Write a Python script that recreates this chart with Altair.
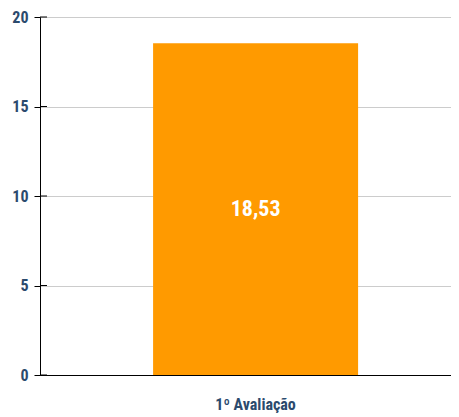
import altair as alt
import pandas as pd

categories = ["1º Avaliação"]
values = [18.53]
labels = ["18,53"]
y_ticks = [0, 5, 10, 15, 20]

df = pd.DataFrame({"cat": categories, "val": values, "lab": labels})
ticks_df = pd.DataFrame({"t": y_ticks})

FONT = "Liberation Sans Narrow, Roboto Condensed, Roboto, sans-serif"
LABEL_COLOR = "#2b4a6d"

yscale = alt.Scale(domain=[0, 20])

base = alt.Chart(df)

bars = base.mark_bar(color="#ff9a00").encode(
    x=alt.X(
        "cat:N",
        title=None,
        scale=alt.Scale(paddingInner=0, paddingOuter=0.5024, align=0.549),
        axis=alt.Axis(
            labelAngle=0, ticks=False, labelPadding=21, labelFont=FONT,
            labelFontSize=16, labelFontWeight="bold", labelColor=LABEL_COLOR,
            domainColor="#000000", domainWidth=1, grid=False,
        ),
    ),
    y=alt.Y(
        "val:Q",
        title=None,
        scale=yscale,
        axis=alt.Axis(
            values=y_ticks, tickSize=6, tickColor="#000000",
            labelPadding=6, labelFont=FONT, labelFontSize=16,
            labelFontWeight="bold", labelColor=LABEL_COLOR,
            domainColor="#000000", gridColor="#cccccc", gridWidth=1,
        ),
    ),
)

inner_ticks = alt.Chart(ticks_df).mark_rule(color="#000000", strokeWidth=1).encode(
    y=alt.Y("t:Q", scale=yscale),
    x=alt.value(0),
    x2=alt.value(7),
)

text = base.transform_calculate(mid="datum.val / 2").mark_text(
    color="white", font=FONT, fontSize=22, fontWeight="bold", baseline="middle"
).encode(
    x=alt.X("cat:N"),
    y=alt.Y("mid:Q", scale=yscale),
    text="lab:N",
)

chart = (bars + inner_ticks + text).properties(
    width=411, height=358,
    autosize=alt.AutoSizeParams(type="none"),
    padding={"left": 32, "top": 9, "right": 0, "bottom": 40},
).configure_view(stroke=None).configure(background="white")

chart.save("out.html", embed_options={"renderer": "svg", "actions": False})
